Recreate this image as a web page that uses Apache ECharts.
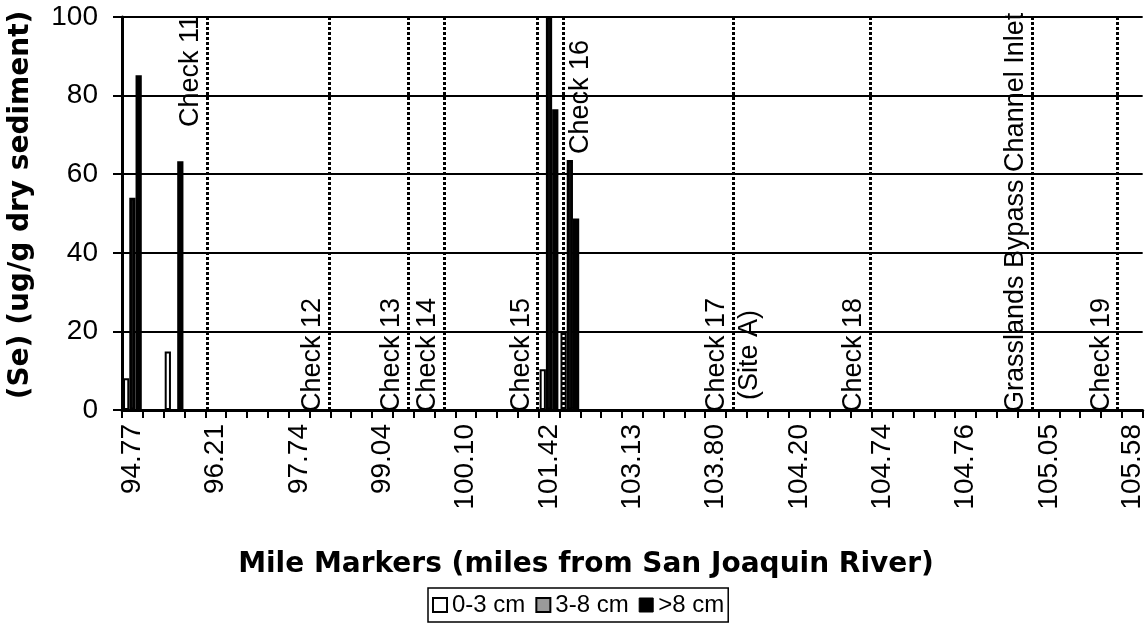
<!DOCTYPE html>
<html>
<head>
<meta charset="utf-8">
<script src="https://cdn.jsdelivr.net/npm/echarts@6/dist/echarts.min.js"></script>
<style>
  html, body { margin: 0; padding: 0; background: #fff; }
  #chart { width: 1148px; height: 630px; }
</style>
</head>
<body>
<div id="chart"></div>
<script>
// Selenium in channel-bottom sediment, by core depth, at sampling sites along the channel.

// Mile marker shown under every fourth sampling site
const mileLabels = ['94.77', '96.21', '97.74', '99.04', '100.10', '101.42', '103.13',
                    '103.80', '104.20', '104.74', '104.76', '105.05', '105.58'];
const sitesPerLabel = 4;
const siteCount = 49;

// Se (ug/g dry sediment); null = no sample at that site
const depth0to3 = [
  8.1, null, 14.9, null, null, null, null, null, null, null,
  null, null, null, null, null, null, null, null, null, null,
  10.4, 19.6, null, null, null, null, null, null, null, null,
  null, null, null, null, null, null, null, null, null, null,
  null, null, null, null, null, null, null, null, null
];
const depth3to8 = [
  54, null, null, null, null, null, null, null, null, null,
  null, null, null, null, null, null, null, null, null, null,
  100, 63.6, null, null, null, null, null, null, null, null,
  null, null, null, null, null, null, null, null, null, null,
  null, null, null, null, null, null, null, null, null
];
const depthOver8 = [
  85.2, null, 63.3, null, null, null, null, null, null, null,
  null, null, null, null, null, null, null, null, null, null,
  76.5, 48.7, null, null, null, null, null, null, null, null,
  null, null, null, null, null, null, null, null, null, null,
  null, null, null, null, null, null, null, null, null
];

const seriesNames = ['0-3 cm', '3-8 cm', '>8 cm'];
const yMin = 0, yMax = 100, yStep = 20;

// Channel structures, located in site units along the axis
const structures = [
  { name: 'Check 11', at: 4.1,   place: 'topLeft' },
  { name: 'Check 12', at: 9.95,  place: 'bottomLeft' },
  { name: 'Check 13', at: 13.75, place: 'bottomLeft' },
  { name: 'Check 14', at: 15.45, place: 'bottomLeft' },
  { name: 'Check 15', at: 19.95, place: 'bottomLeft' },
  { name: 'Check 16', at: 21.2,  place: 'topRight' },
  { name: 'Check 17', at: 29.35, place: 'bottomLeft' },
  { name: '(Site A)', at: 29.35, place: 'bottomRight' },
  { name: 'Check 18', at: 35.9,  place: 'bottomLeft' },
  { name: 'Grasslands Bypass Channel Inlet', at: 43.7, place: 'bottomLeft' },
  { name: 'Check 19', at: 47.8,  place: 'bottomLeft' }
];

const FONT = '"Liberation Sans", Arial, sans-serif';
const BOLD = '"DejaVu Sans", sans-serif';

const placements = {
  topLeft:     { position: 'insideEndTop',      distance: [-2, 3] },
  bottomLeft:  { position: 'insideStartTop',    distance: [-2, 3] },
  topRight:    { position: 'insideEndBottom',   distance: [23, 3] },
  bottomRight: { position: 'insideStartBottom', distance: [10, 3] }
};

const categories = Array.from({ length: siteCount }, (_, i) =>
  i % sitesPerLabel === 0 && mileLabels[i / sitesPerLabel] !== undefined
    ? mileLabels[i / sitesPerLabel] : '');

const catWidth = 20.83;
const chart = echarts.init(document.getElementById('chart'), null, { renderer: 'canvas' });

const barBase = {
  type: 'bar',
  xAxisIndex: 0,
  yAxisIndex: 0,
  barGap: '0%',
  barCategoryGap: '10%',
  clip: true,
  animation: false
};

chart.setOption({
  animation: false,
  backgroundColor: '#fff',
  textStyle: { fontFamily: FONT, color: '#000' },
  grid: { left: 122, top: 17, width: catWidth * siteCount, height: 393, containLabel: false },
  legend: {
    left: 428,
    top: 588,
    orient: 'horizontal',
    icon: 'rect',
    itemWidth: 14,
    itemHeight: 14,
    itemGap: 10,
    padding: [5, 4, 5, 4],
    borderColor: '#000',
    borderWidth: 1.5,
    textStyle: { fontFamily: FONT, fontSize: 24, color: '#000' },
    data: [
      { name: seriesNames[0], itemStyle: { color: '#fff', borderColor: '#000', borderWidth: 2 } },
      { name: seriesNames[1], itemStyle: { color: '#9a9a9a', borderColor: '#000', borderWidth: 2 } },
      { name: seriesNames[2], itemStyle: { color: '#000', borderColor: '#000', borderWidth: 1 } }
    ]
  },
  xAxis: [
    {
      type: 'category',
      data: categories,
      boundaryGap: true,
      axisLine: { show: true, lineStyle: { color: '#000', width: 3 } },
      axisTick: { show: true, interval: 0, length: 8, lineStyle: { color: '#000', width: 2 } },
      axisLabel: {
        interval: sitesPerLabel - 1,
        rotate: 90,
        margin: 14,
        fontSize: 28,
        fontFamily: FONT,
        color: '#000'
      },
      splitLine: { show: false }
    },
    {
      type: 'value',
      min: 0,
      max: siteCount,
      show: false
    }
  ],
  yAxis: {
    type: 'value',
    min: yMin,
    max: yMax,
    interval: yStep,
    axisLine: { show: true, lineStyle: { color: '#000', width: 3 } },
    axisTick: { show: true, length: 9, lineStyle: { color: '#000', width: 2 } },
    axisLabel: { margin: 24, fontSize: 28, fontFamily: FONT, color: '#000' },
    splitLine: { show: true, lineStyle: { color: '#000', width: 2 } }
  },
  graphic: [
    {
      type: 'text',
      x: 21, y: 205,
      rotation: Math.PI / 2,
      style: {
        text: '(Se) (ug/g dry sediment)',
        font: 'bold 28px ' + BOLD,
        fill: '#000',
        textAlign: 'center',
        textVerticalAlign: 'middle'
      }
    },
    {
      type: 'text',
      x: 586, y: 565,
      style: {
        text: 'Mile Markers (miles from San Joaquin River)',
        font: 'bold 28px ' + BOLD,
        fill: '#000',
        textAlign: 'center',
        textVerticalAlign: 'middle'
      }
    }
  ],
  series: [
    Object.assign({}, barBase, {
      name: seriesNames[0],
      data: depth0to3,
      itemStyle: { color: '#fff', borderColor: '#000', borderWidth: 2 }
    }),
    Object.assign({}, barBase, {
      name: seriesNames[1],
      data: depth3to8,
      itemStyle: { color: '#111', borderColor: '#000', borderWidth: 2.5 }
    }),
    Object.assign({}, barBase, {
      name: seriesNames[2],
      data: depthOver8,
      itemStyle: { color: '#000', borderColor: '#000', borderWidth: 2.5 }
    }),
    {
      type: 'line',
      name: 'structures',
      xAxisIndex: 1,
      yAxisIndex: 0,
      data: [],
      silent: true,
      markLine: {
        silent: true,
        animation: false,
        symbol: ['none', 'none'],
        lineStyle: { color: '#000', type: [3, 2], width: 3 },
        data: structures.map(s => ({
          xAxis: s.at,
          label: Object.assign({
            show: true,
            formatter: s.name,
            fontFamily: FONT,
            fontSize: 27,
            color: '#000'
          }, placements[s.place])
        }))
      }
    }
  ]
});
</script>
</body>
</html>
